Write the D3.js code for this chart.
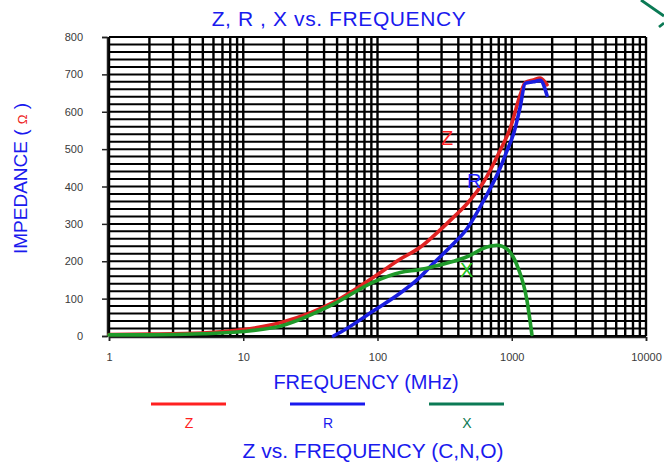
<!DOCTYPE html>
<html>
<head>
<meta charset="utf-8">
<script src="https://cdn.jsdelivr.net/npm/d3@7"></script>
<style>
  body { margin: 0; background: #fff; }
  svg { display: block; }
  .tick text { font-family: "Liberation Sans", Arial, sans-serif; font-size: 11px; fill: #3a3a3a; }
</style>
</head>
<body>
<svg id="chart" width="664" height="464"></svg>
<script>
// values
const freqZ = [1, 2, 5, 10, 20, 47, 94, 148, 209, 262, 369, 464, 617, 821, 975, 1156, 1260, 1450, 1630, 1830];
const valZ  = [4, 5, 8, 17, 38, 90, 158, 206, 238, 268, 318, 354, 412, 497, 556, 645, 678, 685, 690, 672];
const freqR = [47, 53, 94, 148, 197, 262, 349, 464, 617, 821, 920, 1040, 1156, 1260, 1450, 1630, 1830];
const valR  = [0, 10, 68, 115, 150, 195, 239, 287, 362, 450, 495, 545, 613, 676, 680, 684, 644];
const freqX = [1, 2, 5, 10, 20, 47, 94, 148, 209, 262, 369, 464, 653, 775, 920, 1093, 1297, 1413];
const valX  = [3, 3, 6, 12, 29, 85, 145, 170, 178, 186, 200, 212, 238, 243, 233, 190, 96, 4];

const yTicks = [0, 100, 200, 300, 400, 500, 600, 700, 800];
const xTicks = [1, 10, 100, 1000, 10000];

const series = [
  { name: 'Z', f: freqZ, v: valZ, color: '#e02222', label: '#ff1f1f', lx: 441, ly: 145, legColor: '#ff2020', legX: 189 },
  { name: 'R', f: freqR, v: valR, color: '#1a1ee0', label: '#1f1fff', lx: 467, ly: 188, legColor: '#1a1aee', legX: 328 },
  { name: 'X', f: freqX, v: valX, color: '#1f9a2a', label: '#22c422', lx: 460, ly: 277, legColor: '#0b7a55', legX: 467 }
];

const svg = d3.select('#chart');
const pl = 109, pr = 646, pt = 37, pb = 336;

const x = d3.scaleLog().domain([1, 10000]).range([pl, pr]);
const y = d3.scaleLinear().domain([0, 800]).range([pb, pt]);

// grid
let vLines = [];
[1, 10, 100, 1000].forEach(d => { for (let k = 1; k <= 9; k++) vLines.push(d * k); });
vLines.push(10000);

let grid = svg.append('g').attr('stroke', '#000');
grid.selectAll('line.h')
  .data(d3.range(0, 801, 20))
  .join('line')
  .attr('class', 'h')
  .attr('stroke-width', 2)
  .attr('x1', pl).attr('x2', pr)
  .attr('y1', d => y(d)).attr('y2', d => y(d));
grid.selectAll('line.v')
  .data(vLines)
  .join('line')
  .attr('class', 'v')
  .attr('stroke-width', 2.4)
  .attr('x1', d => x(d)).attr('x2', d => x(d))
  .attr('y1', pt).attr('y2', pb);

// axes
let yAxis = svg.append('g')
  .attr('transform', `translate(${pl - 2},0)`)
  .call(d3.axisLeft(y).tickValues(yTicks).tickSize(5).tickPadding(19));
let xAxis = svg.append('g')
  .attr('transform', `translate(0,${pb + 1})`)
  .call(d3.axisBottom(x).tickValues(xTicks).tickSize(4).tickPadding(12).tickFormat(d3.format('d')));
[yAxis, xAxis].forEach(a => {
  a.select('.domain').attr('stroke', '#222').attr('stroke-width', 1.5);
  a.selectAll('.tick line').attr('stroke', '#222').attr('stroke-width', 1.5);
});
yAxis.selectAll('.tick text').attr('font-size', 12);

// curves
let line = d3.line()
  .x(d => x(d[0]))
  .y(d => y(d[1]))
  .curve(d3.curveMonotoneX);

series.forEach(s => {
  svg.append('path')
    .datum(d3.zip(s.f, s.v))
    .attr('d', line)
    .attr('fill', 'none')
    .attr('stroke', s.color)
    .attr('stroke-width', 3.6)
    .attr('stroke-linecap', 'round');
  svg.append('text')
    .attr('x', s.lx).attr('y', s.ly)
    .attr('fill', s.label)
    .attr('font-family', 'Liberation Sans, Arial, sans-serif')
    .attr('font-size', 20)
    .text(s.name);
});

// titles
const titleFont = 'Liberation Sans, Arial, sans-serif';
svg.append('text')
  .attr('x', 339).attr('y', 26)
  .attr('text-anchor', 'middle')
  .attr('fill', '#1a1aee')
  .attr('font-family', titleFont)
  .attr('font-size', 21)
  .attr('letter-spacing', 0.6)
  .text('Z, R , X vs. FREQUENCY');

svg.append('text')
  .attr('x', 366).attr('y', 389)
  .attr('text-anchor', 'middle')
  .attr('fill', '#1a1aee')
  .attr('font-family', titleFont)
  .attr('font-size', 20)
  .text('FREQUENCY (MHz)');

let yl = svg.append('text')
  .attr('transform', 'translate(27,254) rotate(-90)')
  .attr('fill', '#1a1aee')
  .attr('font-family', titleFont)
  .attr('font-size', 19);
yl.append('tspan').text('IMPEDANCE  ( ');
yl.append('tspan').attr('fill', '#ee2020').attr('font-size', 13).text('Ω');
yl.append('tspan').text(' )');

// legend
series.forEach(s => {
  svg.append('line')
    .attr('x1', s.legX - 38).attr('x2', s.legX + 37)
    .attr('y1', 404).attr('y2', 404)
    .attr('stroke', s.legColor)
    .attr('stroke-width', 3);
  svg.append('text')
    .attr('x', s.legX).attr('y', 428)
    .attr('text-anchor', 'middle')
    .attr('fill', s.legColor)
    .attr('font-family', titleFont)
    .attr('font-size', 14)
    .text(s.name);
});

svg.append('text')
  .attr('x', 373).attr('y', 458)
  .attr('text-anchor', 'middle')
  .attr('fill', '#1a1aee')
  .attr('font-family', titleFont)
  .attr('font-size', 21)
  .text('Z vs. FREQUENCY (C,N,O)');

// stray arrow in the corner
svg.append('path')
  .attr('d', 'M641,0 L664,16 M659,27 L664,23')
  .attr('stroke', '#0b7a55')
  .attr('stroke-width', 2.8)
  .attr('fill', 'none');
</script>
</body>
</html>
